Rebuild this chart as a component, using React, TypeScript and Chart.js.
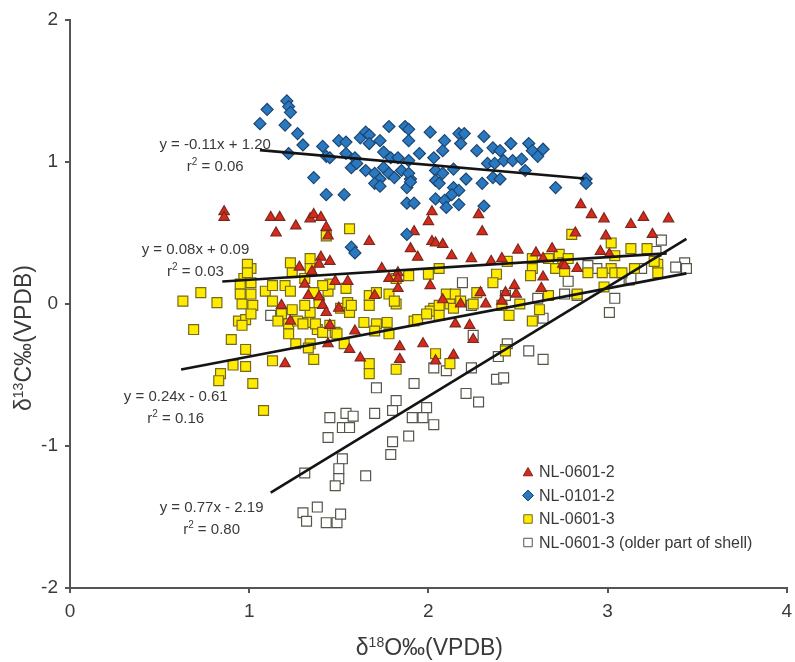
import React, { useEffect, useRef } from 'react';
import { Chart, registerables } from 'chart.js';
Chart.register(...registerables);

// ---------- data ----------
const seriesNames = ['NL-0601-2', 'NL-0101-2', 'NL-0601-3', 'NL-0601-3 (older part of shell)'];

const nl06012: [number, number][] = [
  [0.86,0.65],[0.86,0.61],[1.12,0.61],[1.17,0.61],[1.15,0.50],[1.26,0.55],[1.34,0.60],[1.36,0.63],[1.40,0.61],
  [1.43,0.54],[1.44,0.48],[1.67,0.44],[1.40,0.33],[1.45,0.30],[1.39,0.28],[1.28,0.26],[1.35,0.23],[1.31,0.14],
  [1.33,0.06],[1.39,0.05],[1.55,0.16],[1.48,0.16],[1.70,0.06],[1.74,0.25],[1.78,0.18],[1.83,0.22],[1.90,0.39],
  [1.83,0.11],[1.18,-0.01],[1.23,-0.12],[1.41,-0.01],[1.43,-0.06],[1.50,-0.03],[1.45,-0.15],[1.59,-0.19],
  [1.44,-0.28],[1.56,-0.32],[1.62,-0.38],[1.20,-0.42],[1.84,-0.30],[1.84,-0.39],[1.97,-0.28],[2.04,-0.40],
  [2.14,-0.36],[2.25,-0.25],[2.02,0.65],[2.00,0.58],[2.28,0.63],[2.30,0.51],[1.92,0.51],[2.02,0.44],[2.04,0.43],
  [2.08,0.42],[1.94,0.33],[2.13,0.34],[2.24,0.32],[2.35,0.30],[2.41,0.32],[2.50,0.38],[2.60,0.36],[2.64,0.32],
  [2.69,0.39],[2.75,0.28],[2.64,0.19],[2.63,0.11],[2.01,0.13],[2.43,0.08],[2.48,0.13],[2.49,0.07],[2.29,0.08],
  [2.08,0.03],[2.18,0.00],[2.32,0.00],[2.41,0.02],[2.15,-0.14],[2.23,-0.15],[2.85,0.70],[2.91,0.63],[2.98,0.60],
  [3.13,0.56],[3.20,0.61],[3.34,0.60],[2.82,0.50],[2.99,0.48],[3.25,0.49],[2.96,0.37],[3.01,0.35],[2.83,0.25],
  [2.76,0.27],[1.83,0.18]
];

const nl01012: [number, number][] = [
  [1.06,1.27],[1.10,1.37],[1.21,1.43],[1.22,1.39],[1.23,1.35],[1.20,1.26],[1.27,1.20],[1.30,1.12],[1.22,1.06],
  [1.36,0.89],[1.43,0.77],[1.53,0.77],[1.41,1.11],[1.43,1.04],[1.45,1.03],[1.50,1.15],[1.54,1.14],[1.54,1.06],
  [1.62,1.17],[1.65,1.21],[1.67,1.19],[1.67,1.13],[1.73,1.15],[1.75,1.07],[1.78,1.25],[1.79,1.03],[1.59,1.03],
  [1.57,0.96],[1.60,0.99],[1.65,0.94],[1.70,0.92],[1.75,0.96],[1.78,0.92],[1.73,0.88],[1.70,0.85],[1.73,0.83],
  [1.81,0.89],[1.85,0.94],[1.89,1.01],[1.83,1.03],[1.90,0.88],[1.88,0.82],[1.88,0.71],[1.92,0.71],[1.57,0.40],
  [1.59,0.36],[1.88,0.49],[1.87,1.25],[1.89,1.23],[2.01,1.21],[1.89,1.15],[1.95,1.06],[2.03,1.03],[2.08,1.08],
  [2.09,1.15],[2.17,1.20],[2.20,1.20],[2.18,1.13],[2.27,1.08],[2.31,1.18],[2.36,1.10],[2.40,1.08],[2.46,1.13],
  [2.56,1.13],[2.58,1.08],[2.64,1.09],[2.61,1.04],[2.33,0.99],[2.37,0.99],[2.42,1.01],[2.47,1.01],[2.52,1.02],
  [2.04,0.94],[2.08,0.92],[2.14,0.95],[1.89,0.92],[1.90,0.86],[2.04,0.87],[2.06,0.85],[2.21,0.88],[2.30,0.85],
  [2.36,0.89],[2.40,0.88],[2.54,0.94],[2.71,0.82],[2.14,0.82],[2.17,0.80],[2.13,0.77],[2.04,0.74],[2.09,0.73],
  [2.10,0.68],[2.17,0.70],[2.31,0.69],[2.88,0.88],[2.88,0.85]
];

const nl06013: [number, number][] = [
  [0.63,0.02],[0.73,0.08],[0.82,0.01],[0.69,-0.18],[0.90,-0.25],[0.98,-0.32],[0.91,-0.43],[0.98,-0.44],
  [0.84,-0.49],[0.83,-0.54],[1.02,-0.56],[1.08,-0.75],[0.97,0.18],[1.01,0.25],[0.95,0.14],[1.01,0.15],
  [0.95,0.07],[0.96,0.00],[1.02,-0.01],[0.94,-0.12],[0.98,-0.11],[0.96,-0.15],[1.09,0.09],[1.13,0.13],
  [1.20,0.13],[1.23,0.29],[1.34,0.32],[1.34,0.25],[1.13,0.02],[1.18,-0.07],[1.22,-0.14],[1.44,0.09],
  [1.39,0.01],[1.34,-0.06],[1.43,0.48],[1.56,0.53],[1.45,0.14],[1.51,-0.03],[1.55,0.01],[1.56,-0.06],
  [1.64,-0.13],[1.67,0.06],[1.67,-0.01],[1.78,0.07],[1.77,-0.13],[1.45,-0.15],[1.27,-0.12],[1.33,-0.13],
  [1.38,-0.18],[1.71,-0.14],[1.01,-0.07],[1.16,-0.12],[1.24,-0.04],[1.31,-0.01],[1.30,-0.14],[1.37,-0.14],
  [1.41,-0.20],[1.48,-0.20],[1.22,-0.21],[1.26,-0.28],[1.34,-0.28],[1.33,-0.31],[1.53,-0.28],[1.49,-0.21],
  [1.57,-0.01],[1.70,-0.19],[1.78,-0.21],[1.82,0.00],[1.13,-0.40],[1.36,-0.39],[1.67,-0.42],[1.67,-0.49],
  [1.82,-0.46],[1.92,-0.12],[0.99,0.28],[0.99,0.22],[1.31,0.18],[1.24,0.22],[1.41,0.13],[1.54,0.11],
  [1.71,0.08],[1.89,0.20],[1.81,0.02],[1.01,0.07],[1.23,0.09],[1.36,0.08],[2.38,0.21],[2.36,0.15],
  [2.44,0.30],[2.58,0.32],[2.58,0.25],[2.57,0.20],[2.73,0.35],[2.75,0.29],[2.80,0.49],[2.10,0.07],
  [2.03,-0.03],[2.12,0.00],[2.14,-0.03],[2.25,0.00],[2.27,0.08],[2.41,-0.01],[2.51,0.00],[2.67,0.06],
  [2.62,-0.04],[1.82,0.18],[2.00,0.21],[2.06,0.25],[2.67,0.32],[2.78,0.32],[2.71,0.25],[3.02,0.43],
  [3.13,0.39],[3.22,0.39],[3.02,0.25],[3.04,0.22],[3.28,0.28],[3.28,0.22],[3.15,0.25],[2.89,0.22],
  [2.97,0.22],[3.08,0.22],[2.15,0.07],[2.01,-0.05],[2.06,-0.08],[1.94,-0.11],[2.45,-0.08],[2.58,-0.12],
  [2.83,0.07],[2.98,0.12],[3.26,0.30],[2.76,0.23],[3.04,0.34],[1.99,-0.07],[2.06,-0.01],[2.18,0.02],
  [2.04,-0.35],[2.12,-0.42],[2.43,-0.33]
];

const nl06013Old: [number, number][] = [
  [1.12,-0.08],[1.30,-1.47],[1.38,-1.43],[1.32,-1.53],[1.43,-1.54],[1.49,-1.54],[1.51,-1.48],[1.31,-1.19],
  [1.52,-1.09],[1.50,-1.16],[1.50,-1.23],[1.48,-1.28],[1.65,-1.21],[1.44,-0.94],[1.45,-0.80],[1.54,-0.77],
  [1.58,-0.79],[1.52,-0.87],[1.56,-0.87],[1.71,-0.59],[1.70,-0.77],[1.80,-0.75],[1.82,-0.68],[1.92,-0.56],
  [1.91,-0.80],[1.89,-0.93],[1.80,-0.97],[1.79,-1.06],[2.03,-0.45],[2.10,-0.47],[2.24,-0.45],[2.21,-0.63],
  [2.28,-0.69],[1.99,-0.73],[1.97,-0.80],[2.03,-0.85],[2.25,-0.22],[2.44,-0.28],[2.43,-0.32],[2.39,-0.37],
  [2.56,-0.33],[2.64,-0.39],[2.38,-0.53],[2.42,-0.52],[2.64,-0.10],[2.19,0.15],[2.24,-0.01],[2.43,0.06],
  [2.61,0.04],[2.78,0.16],[2.76,0.07],[2.83,0.06],[2.94,0.25],[2.89,0.27],[3.04,0.04],[3.01,-0.06],
  [3.12,0.17],[3.19,0.25],[3.30,0.45],[3.27,0.37],[3.43,0.29],[3.38,0.26],[3.44,0.25],[3.13,0.18]
];

// regression lines: y = slope * x + intercept, drawn over the x-range of each fit
const fitSlopes = [-0.11, 0.08, 0.24, 0.77];
const fitIntercepts = [1.20, 0.09, -0.61, -2.19];
const fitXStart = [1.06, 0.85, 0.62, 1.12];
const fitXEnd = [2.87, 3.33, 3.44, 3.44];
const fitEquations = ['y = -0.11x + 1.20', 'y = 0.08x + 0.09', 'y = 0.24x - 0.61', 'y = 0.77x - 2.19'];
const fitR2 = ['0.06', '0.03', '0.16', '0.80'];

const xTickValues = [0, 1, 2, 3, 4];
const yTickValues = [-2, -1, 0, 1, 2];

// ---------- layout / style ----------
const FONT = '"Liberation Sans", Arial, Helvetica, sans-serif';
const TEXT = '#3a3a3a';
const AXIS = '#555555';
const labelAnchors: [number, number][] = [[0.81, 1.13], [0.70, 0.39], [0.59, -0.65], [0.79, -1.43]];

const styles = [
  { fill: '#d9291c', stroke: '#7a2a1c', shape: 'triangle', r: 6 },
  { fill: '#2a79c0', stroke: '#1d4670', shape: 'rectRot', r: 6 },
  { fill: '#ffeb00', stroke: '#76691c', shape: 'rect', r: 7 },
  { fill: '#ffffff', stroke: '#55554a', shape: 'rect', r: 7 },
];

type Seg = { t: string; size: number; rise?: number };
function segWidth(ctx: CanvasRenderingContext2D, segs: Seg[]) {
  let w = 0;
  for (const s of segs) { ctx.font = `${s.size}px ${FONT}`; w += ctx.measureText(s.t).width; }
  return w;
}
function drawSegs(ctx: CanvasRenderingContext2D, segs: Seg[], cx: number, baseline: number) {
  let x = cx - segWidth(ctx, segs) / 2;
  ctx.textAlign = 'left';
  ctx.textBaseline = 'alphabetic';
  for (const s of segs) {
    ctx.font = `${s.size}px ${FONT}`;
    ctx.fillText(s.t, x, baseline - (s.rise || 0));
    x += ctx.measureText(s.t).width;
  }
}

function drawMarker(ctx: CanvasRenderingContext2D, shape: string, x: number, y: number, r: number) {
  ctx.beginPath();
  if (shape === 'triangle') {
    ctx.moveTo(x, y - r);
    ctx.lineTo(x + r * 0.866, y + r * 0.5);
    ctx.lineTo(x - r * 0.866, y + r * 0.5);
    ctx.closePath();
  } else if (shape === 'rectRot') {
    ctx.moveTo(x, y - r); ctx.lineTo(x + r, y); ctx.lineTo(x, y + r); ctx.lineTo(x - r, y); ctx.closePath();
  } else {
    const s = r * Math.SQRT1_2;
    ctx.rect(x - s, y - s, 2 * s, 2 * s);
  }
  ctx.fill();
  ctx.stroke();
}

const overlayPlugin = {
  id: 'overlay',
  afterDatasetsDraw(chart: any) {
    const ctx: CanvasRenderingContext2D = chart.ctx;
    const xs = chart.scales.x, ys = chart.scales.y;
    ctx.save();
    ctx.fillStyle = TEXT;
    // regression equations
    fitEquations.forEach((eq, i) => {
      const px = xs.getPixelForValue(labelAnchors[i][0]);
      const py = ys.getPixelForValue(labelAnchors[i][1]);
      drawSegs(ctx, [{ t: eq, size: 15 }], px, py + 5);
      drawSegs(ctx, [{ t: 'r', size: 15 }, { t: '2', size: 10, rise: 6 }, { t: ' = ' + fitR2[i], size: 15 }], px, py + 27);
    });
    // legend
    const lx = 528, ly0 = 472, dy = 23.5;
    seriesNames.forEach((name, i) => {
      const st = styles[i];
      const y = ly0 + i * dy;
      ctx.fillStyle = st.fill; ctx.strokeStyle = st.stroke; ctx.lineWidth = 1;
      drawMarker(ctx, st.shape, lx, y + (st.shape === 'triangle' ? 1 : 0), st.shape === 'rect' ? 6 : 5.5);
      ctx.fillStyle = TEXT;
      ctx.font = `16px ${FONT}`;
      ctx.textAlign = 'left';
      ctx.textBaseline = 'middle';
      ctx.fillText(name, 539, y + 1);
    });
    ctx.restore();
  },
  afterDraw(chart: any) {
    const ctx: CanvasRenderingContext2D = chart.ctx;
    const area = chart.chartArea;
    ctx.save();
    ctx.fillStyle = TEXT;
    // x-axis title
    drawSegs(ctx, [{ t: 'δ', size: 23 }, { t: '18', size: 14, rise: 8 }, { t: 'O‰(VPDB)', size: 23 }], (area.left + area.right) / 2 + 1, 655);
    // y-axis title
    ctx.translate(31, 338);
    ctx.rotate(-Math.PI / 2);
    drawSegs(ctx, [{ t: 'δ', size: 23 }, { t: '13', size: 14, rise: 8 }, { t: 'C‰(VPDB)', size: 23 }], 0, 0);
    ctx.restore();
  },
};

export default function App() {
  const ref = useRef<HTMLCanvasElement>(null);
  useEffect(() => {
    document.body.style.margin = '0';
    const pointSets = [nl06012, nl01012, nl06013, nl06013Old];
    const orders = [2, 1, 3, 4];
    const pointDatasets = pointSets.map((pts, i) => ({
      label: seriesNames[i],
      data: pts.map(([x, y]) => ({ x, y })),
      pointStyle: styles[i].shape,
      pointRadius: styles[i].r,
      pointBackgroundColor: styles[i].fill,
      pointBorderColor: styles[i].stroke,
      pointBorderWidth: 1.2,
      showLine: false,
      order: orders[i],
    }));
    const lineDatasets = fitSlopes.map((m, i) => ({
      label: 'fit ' + (i + 1),
      data: [fitXStart[i], fitXEnd[i]].map((x) => ({ x, y: m * x + fitIntercepts[i] })),
      showLine: true,
      borderColor: '#141414',
      borderWidth: 2.6,
      pointRadius: 0,
      order: 0,
    }));
    const chart = new Chart(ref.current!, {
      type: 'scatter',
      data: { datasets: [...lineDatasets, ...pointDatasets] as any },
      options: {
        animation: false,
        responsive: false,
        maintainAspectRatio: false,
        layout: { padding: { top: 20, right: 2, left: 0, bottom: 0 } },
        plugins: { legend: { display: false }, tooltip: { enabled: false } },
        scales: {
          x: {
            type: 'linear', min: 0, max: 4,
            afterBuildTicks: (s: any) => { s.ticks = xTickValues.map((v) => ({ value: v })); },
            afterFit: (s: any) => { s.height = 74; s.paddingLeft = 0; s.paddingRight = 0; },
            ticks: { color: TEXT, font: { size: 19, family: FONT }, padding: 7, maxRotation: 0 },
            grid: { display: true, drawOnChartArea: false, drawTicks: true, tickLength: 5, color: AXIS, lineWidth: 2 },
            border: { display: true, color: AXIS, width: 2 },
          },
          y: {
            type: 'linear', min: -2, max: 2,
            afterBuildTicks: (s: any) => { s.ticks = yTickValues.map((v) => ({ value: v })); },
            afterFit: (s: any) => { s.width = 70; s.paddingTop = 0; s.paddingBottom = 0; },
            ticks: { color: TEXT, font: { size: 19, family: FONT }, padding: 7 },
            grid: { display: true, drawOnChartArea: false, drawTicks: true, tickLength: 5, color: AXIS, lineWidth: 2 },
            border: { display: true, color: AXIS, width: 2 },
          },
        },
      } as any,
      plugins: [overlayPlugin],
    });
    return () => chart.destroy();
  }, []);
  return (
    <div style={{ width: 795, height: 662, background: '#fff' }}>
      <canvas ref={ref} width={795} height={662} style={{ display: 'block' }} />
    </div>
  );
}
